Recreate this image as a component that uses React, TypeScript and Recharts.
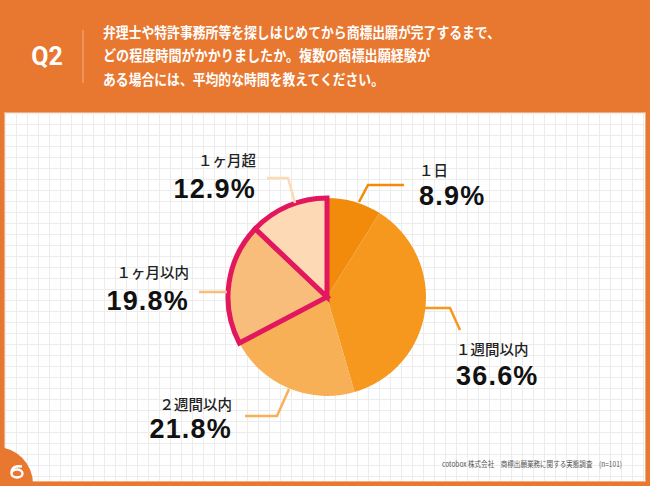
import React from 'react';
import { PieChart, Pie, Cell } from 'recharts';

const categories = ['１日', '１週間以内', '２週間以内', '１ヶ月以内', '１ヶ月超'];
const values = [8.9, 36.6, 21.8, 19.8, 12.9];
const percentLabels = ['8.9%', '36.6%', '21.8%', '19.8%', '12.9%'];
const sliceColors = ['#f28a0c', '#f5981d', '#f7b055', '#f8bd7a', '#fdd9b5'];
const highlighted = [false, false, false, true, true];

const questionLines = [
  '弁理士や特許事務所等を探しはじめてから商標出願が完了するまで、',
  'どの程度時間がかかりましたか。複数の商標出願経験が',
  'ある場合には、平均的な時間を教えてください。',
];
const questionWidths = [397, 327, 281];
const footerText = 'cotobox 株式会社　商標出願業務に関する実態調査　(n=101)';

// annotation layout (leader line points + text placement) per slice
const leaderPaths: number[][][] = [
  [[359, 202], [368, 185], [404, 185]],
  [[422, 308], [450, 308], [460, 330]],
  [[289, 389], [277, 416], [245, 416]],
  [[227, 292], [199, 292]],
  [[295, 203], [288, 178], [267, 178]],
];
const textPlacement = [
  { x: 419, anchor: 'start', catY: 176, pctY: 205 },
  { x: 456, anchor: 'start', catY: 355, pctY: 385 },
  { x: 232, anchor: 'end', catY: 410, pctY: 438 },
  { x: 189, anchor: 'end', catY: 278, pctY: 310 },
  { x: 256, anchor: 'end', catY: 166, pctY: 198 },
];

const data = categories.map((name, i) => ({ name, value: values[i] }));

const FONT = '"Noto Sans CJK JP", "Noto Sans", sans-serif';
const NUM_FONT = '"Liberation Sans", Arial, sans-serif';
const ORANGE = '#e8772f';
const PINK = '#e3175e';

const renderLabel = (props: any) => {
  const { index } = props;
  const pts = leaderPaths[index];
  const tp = textPlacement[index];
  return (
    <g key={`lbl-${index}`}>
      <polyline
        points={pts.map((p) => p.join(',')).join(' ')}
        fill="none"
        stroke={sliceColors[index]}
        strokeWidth={2.5}
      />
      <text
        x={tp.x}
        y={tp.catY}
        textAnchor={tp.anchor as any}
        fontFamily={FONT}
        fontSize={14.5}
        fontWeight={500}
        fill="#222"
      >
        {categories[index]}
      </text>
      <text
        x={tp.x}
        y={tp.pctY}
        textAnchor={tp.anchor as any}
        fontFamily={NUM_FONT}
        fontSize={27}
        fontWeight={700}
        letterSpacing={1.2}
        fill="#111"
      >
        {percentLabels[index]}
      </text>
    </g>
  );
};

const Background = () => (
  <svg width={650} height={486} style={{ position: 'absolute', left: 0, top: 0 }}>
    <defs>
      <pattern id="grid" x={5} y={113} width={11} height={11} patternUnits="userSpaceOnUse">
        <path d="M0.5 0 V11 M0 0.5 H11" stroke="#ececec" strokeWidth={1} fill="none" />
      </pattern>
    </defs>
    <rect x={0} y={0} width={650} height={486} fill={ORANGE} />
    <rect x={5} y={113} width={640} height={368} fill="#ffffff" />
    <rect x={5} y={113} width={640} height={368} fill="url(#grid)" />
    <rect x={4.5} y={112.5} width={641} height={369} fill="none" stroke="#f3ad7e" strokeWidth={1} />
    <path d="M-4 447 A37 37 0 0 1 33 484 L33 486 L0 486 Z" fill={ORANGE} />
    <g fill="none" stroke="#fff" strokeWidth={2.4}>
      <ellipse cx={17} cy={473.5} rx={5.5} ry={4} />
      <path d="M11.5 473 C11.5 467, 16 465.5, 22 466.5" />
    </g>
    <text x={47} y={65} textAnchor="middle" fontFamily="Roboto, sans-serif" fontWeight={700} fontSize={25} fill="#fff">
      Q2
    </text>
    <line x1={83} y1={30} x2={83} y2={83} stroke="#f3b48a" strokeWidth={1} />
    {questionLines.map((t, i) => (
      <text
        key={i}
        x={103}
        y={37.5 + i * 23.5}
        fontFamily={FONT}
        fontSize={14.5}
        fontWeight={700}
        fill="#fff"
        textLength={questionWidths[i]}
        lengthAdjust="spacingAndGlyphs"
      >
        {t}
      </text>
    ))}
    <text
      x={442}
      y={467}
      fontFamily={FONT}
      fontSize={7.5}
      fill="#555"
      textLength={180}
      lengthAdjust="spacingAndGlyphs"
    >
      {footerText}
    </text>
  </svg>
);

export default function App() {
  return (
    <div style={{ position: 'absolute', left: 0, top: 0, width: 650, height: 486, overflow: 'hidden' }}>
      <Background />
      <div style={{ position: 'absolute', left: 0, top: 0 }}>
        <PieChart width={650} height={486} margin={{ top: 0, right: 0, bottom: 0, left: 0 }}>
          <Pie
            data={data}
            dataKey="value"
            nameKey="name"
            cx={327}
            cy={297}
            outerRadius={99}
            startAngle={90}
            endAngle={-270}
            isAnimationActive={false}
            label={renderLabel}
            labelLine={false}
          >
            {data.map((d, i) => (
              <Cell
                key={d.name}
                fill={sliceColors[i]}
                stroke={highlighted[i] ? PINK : 'none'}
                strokeWidth={highlighted[i] ? 5 : 0}
                strokeLinejoin="miter"
              />
            ))}
          </Pie>
        </PieChart>
      </div>
    </div>
  );
}
